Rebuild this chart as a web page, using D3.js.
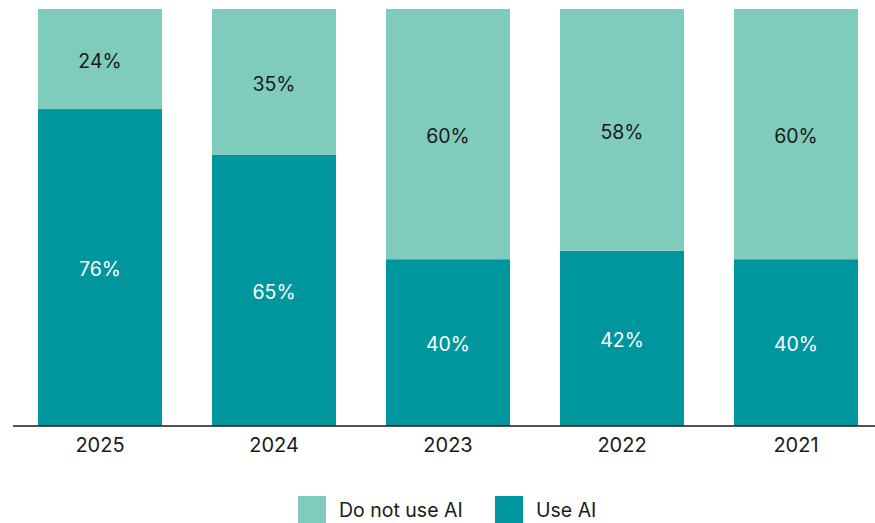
<!DOCTYPE html>
<html>
<head>
<meta charset="utf-8">
<script src="https://cdn.jsdelivr.net/npm/d3@7"></script>
<style>
  body { margin: 0; background: #fff; }
  svg { display: block; font-family: "Inter", "Lato", sans-serif; }
</style>
</head>
<body>
<svg id="chart" width="875" height="523"></svg>
<script>
// Survey years and share of respondents (percent)
const years = ["2025", "2024", "2023", "2022", "2021"];
const useAI = [76, 65, 40, 42, 40];
const doNotUseAI = [24, 35, 60, 58, 60];
const seriesNames = ["Do not use AI", "Use AI"];
const seriesColors = ["#7fccbc", "#00969e"];

const width = 875, height = 523;
const margin = { top: 9, right: 0, bottom: 97, left: 13 };
const svg = d3.select("#chart");

const x = d3.scaleBand()
  .domain(years)
  .range([38, 858])
  .paddingInner(50 / 174)
  .paddingOuter(0);

const y = d3.scaleLinear()
  .domain([0, 100])
  .range([height - margin.bottom, margin.top]);

const rows = years.map((yr, i) => ({ year: yr, use: useAI[i], notUse: doNotUseAI[i] }));
const stack = d3.stack().keys(["use", "notUse"])(rows);
const colorOf = { use: seriesColors[1], notUse: seriesColors[0] };
const textOf = { use: "#ffffff", notUse: "#1a1a1a" };

const layers = svg.append("g").selectAll("g")
  .data(stack)
  .join("g")
  .attr("fill", d => colorOf[d.key]);

layers.selectAll("rect")
  .data(d => d)
  .join("rect")
  .attr("x", d => x(d.data.year))
  .attr("width", x.bandwidth())
  .attr("y", d => y(d[1]))
  .attr("height", d => y(d[0]) - y(d[1]));

// Value labels centred in each segment
stack.forEach(layer => {
  svg.append("g").selectAll("text")
    .data(layer)
    .join("text")
    .attr("x", d => x(d.data.year) + x.bandwidth() / 2)
    .attr("y", d => (y(d[0]) + y(d[1])) / 2)
    .attr("dy", "0.44em")
    .attr("text-anchor", "middle")
    .attr("font-size", 19.5)
    .attr("fill", textOf[layer.key])
    .text(d => (d[1] - d[0]) + "%");
});

// Baseline and year labels
const xAxis = svg.append("g")
  .attr("transform", `translate(0,${y(0)})`)
  .call(d3.axisBottom(x).tickSize(0).tickPadding(12));
xAxis.select(".domain").remove();
xAxis.append("line")
  .attr("x1", margin.left).attr("x2", width)
  .attr("stroke", "#1a1a1a").attr("stroke-width", 1.5);
xAxis.selectAll(".tick text")
  .attr("font-size", 20)
  .attr("font-family", "Inter, Lato, sans-serif")
  .attr("fill", "#1a1a1a");

// Legend
const legendItems = [
  { name: seriesNames[0], color: seriesColors[0], x: 298 },
  { name: seriesNames[1], color: seriesColors[1], x: 495 }
];
const legend = svg.append("g").selectAll("g")
  .data(legendItems)
  .join("g")
  .attr("transform", d => `translate(${d.x},496)`);
legend.append("rect")
  .attr("width", 28).attr("height", 27)
  .attr("fill", d => d.color);
legend.append("text")
  .attr("x", 41).attr("y", 14)
  .attr("dy", "0.36em")
  .attr("font-size", 19.5)
  .attr("fill", "#1a1a1a")
  .text(d => d.name);
</script>
</body>
</html>
